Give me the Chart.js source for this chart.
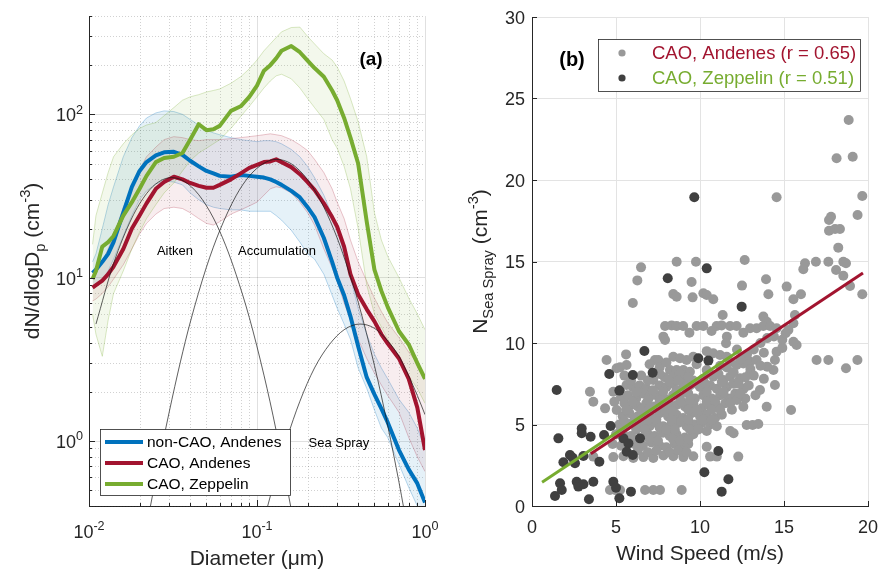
<!DOCTYPE html>
<html>
<head>
<meta charset="utf-8">
<script src="https://cdn.jsdelivr.net/npm/chart.js@4.4.0/dist/chart.umd.min.js"></script>
<style>
    body { margin: 0; background: #fff; }
    .wrap { position: relative; width: 880px; height: 569px; overflow: hidden; }
    #chartA { position: absolute; left: 0; top: 0; }
    #chartB { position: absolute; left: 450px; top: 0; }
</style>
</head>
<body>
<div class="wrap">
    <canvas id="chartA" width="440" height="569"></canvas>
    <canvas id="chartB" width="430" height="569"></canvas>
</div>
<script>
// ---------- panel (a): size distributions ----------
const diam = [0.0105, 0.011, 0.012, 0.013, 0.014, 0.016, 0.018, 0.02, 0.022, 0.025, 0.028, 0.032, 0.036, 0.04, 0.045,
    0.05, 0.055, 0.06, 0.07, 0.08, 0.09, 0.1, 0.11, 0.12, 0.13, 0.14, 0.16, 0.18, 0.2, 0.22, 0.25, 0.28, 0.3, 0.33,
    0.36, 0.4, 0.45, 0.5, 0.55, 0.6, 0.7, 0.8, 0.9, 1.0];

const nonCaoAndenes = [10.7, 11.2, 12.5, 14, 16.5, 25, 36, 45, 51, 56, 58.5, 59, 56.5, 52, 48, 45, 43.5, 42, 41.5, 42.5,
    42, 41.5, 41, 40, 38.5, 37, 34, 31, 27, 23.5, 17.5, 12.5, 10, 7.8, 5.8, 3.8, 2.45, 1.93, 1.58, 1.3, 0.88, 0.67, 0.55, 0.42];
const nonCaoAndenesHi = [12.5, 14, 20, 28, 36, 55, 72, 85, 95, 102, 105, 104, 100, 93, 86, 80, 77, 75, 72, 70,
    69, 68, 69, 69, 68, 66, 61, 55, 48, 41, 32, 24, 20, 14, 10, 6.5, 4.5, 3.4, 2.8, 2.4, 1.8, 1.5, 1.2, 0.9];
const nonCaoAndenesLo = [8.5, 8.8, 9.5, 11, 13, 18, 24, 30, 34, 37.5, 39, 38.5, 37, 33, 30, 28, 27, 26.5, 26, 26,
    25.5, 25.5, 25.5, 25.5, 24, 22.5, 19.5, 16.5, 14, 13, 10.5, 7.8, 6.5, 5.2, 4.2, 2.8, 2.1, 1.55, 1.2, 1.05, 0.72, 0.52, 0.4, 0.3];

const caoAndenes = [8.7, 9.0, 9.6, 10.5, 11.7, 15, 20, 24, 28.5, 35, 38.5, 41.5, 40, 38, 36.5, 35.5, 35.5, 37, 40, 43.5,
    47, 49, 51, 51.5, 53, 51, 47.5, 43, 38.5, 34.5, 28.5, 23.5, 20.5, 15.5, 10.5, 7.9, 6.4, 5.4, 4.5, 3.95, 3.2, 2.4, 1.6, 0.88];
const caoAndenesHi = [10.5, 11, 12.5, 15, 18, 27, 36, 46, 55, 63, 70, 73, 72, 70, 69, 70, 70, 70, 71, 72,
    73, 74, 75, 76, 75, 74, 70, 65, 60, 53, 44, 35, 29, 23, 17, 12.5, 9.5, 7.5, 6.2, 5.3, 4.3, 3.5, 3.0, 2.5];
const caoAndenesLo = [7.2, 7.4, 8, 8.8, 9.8, 12, 15, 18.5, 21.5, 24.5, 26.5, 27, 26.5, 25, 23, 21.5, 21, 22, 24.5, 26,
    27.5, 29, 32, 35, 36, 35.5, 33, 29, 25, 21, 15, 11.5, 9.5, 7, 5.5, 4.2, 3.2, 2.6, 2.2, 1.9, 1.5, 1.05, 0.8, 0.65];

const caoZeppelin = [9.8, 11, 15.5, 16.5, 18, 24, 29, 35, 42, 51, 54, 55, 58, 70, 87, 80, 81, 85, 105, 112,
    128, 150, 185, 200, 220, 245, 262, 240, 213, 192, 170, 140, 122, 95, 72, 50, 22, 11.2, 8.3, 6.6, 4.7, 3.9, 3.0, 2.4];
const caoZeppelinHi = [16, 24, 33, 44, 55, 66, 75, 82, 86, 89, 98, 110, 122, 128, 132, 137, 140, 143, 155, 170,
    190, 215, 245, 270, 295, 320, 340, 342, 300, 270, 235, 215, 195, 160, 125, 90, 55, 25, 17, 13.5, 10, 7.5, 6, 4.8];
const caoZeppelinLo = [6, 4.5, 3.3, 5.5, 8, 11, 15, 19, 23, 28, 33, 38, 45, 52, 58, 62, 66, 70, 82, 97,
    112, 128, 145, 160, 172, 176, 165, 145, 125, 110, 93, 70, 62, 48, 35, 20, 9, 6, 5, 4.2, 3.2, 2.5, 2.1, 1.7];

// fitted modes
const aitkenD = [0.011, 0.014, 0.018, 0.022, 0.026, 0.031, 0.037, 0.045, 0.055, 0.065, 0.075, 0.09, 0.11, 0.13, 0.15, 0.16];
const aitkenN = [5.2, 12.2, 23.2, 32.7, 38.6, 41, 38.8, 32.2, 23.2, 15.8, 10.5, 5.7, 2.53, 1.16, 0.54, 0.38];
const accumD = [0.023, 0.027, 0.03, 0.035, 0.04, 0.05, 0.06, 0.075, 0.09, 0.11, 0.13, 0.16, 0.2, 0.25, 0.3, 0.35, 0.4, 0.5, 0.6, 0.7, 0.75];
const accumN = [0.38, 0.89, 1.5, 3.05, 5.3, 11.6, 19.4, 31.7, 41.9, 50.2, 53, 49.8, 39.8, 27, 17.5, 11.1, 7.1, 2.9, 1.24, 0.56, 0.38];
const seaD = [0.115, 0.13, 0.15, 0.18, 0.22, 0.27, 0.33, 0.41, 0.5, 0.6, 0.7, 0.8, 0.9, 1.0];
const seaN = [0.39, 0.62, 1.02, 1.75, 2.8, 3.9, 4.8, 5.2, 4.9, 4.1, 3.3, 2.5, 1.9, 1.45];

const xDecades = [0.01, 0.1, 1];
const xDecadeExp = ['-2', '-1', '0'];
const yDecades = [1, 10, 100];
const yDecadeExp = ['0', '1', '2'];

// ---------- panel (b): sea spray vs wind ----------
const andenesPts = [
    [18.85, 23.68], [18.13, 21.33], [19.09, 21.43], [14.56, 18.94], [19.66, 19.02], [19.38, 17.85], [17.8, 17.75],
    [17.68, 17.55], [17.68, 16.89], [18.04, 16.99], [18.33, 16.99], [18.23, 15.85], [17.64, 14.99], [16.9, 14.99],
    [16.25, 14.89], [16.15, 14.52], [18.53, 14.99], [18.69, 14.89], [18.1, 14.48], [18.53, 14.13], [18.93, 13.5],
    [19.66, 12.99], [15.16, 13.46], [16.01, 12.99], [15.56, 12.68], [13.93, 13.91], [14.07, 12.99], [12.5, 13.52],
    [12.66, 15.09], [9.76, 14.99], [8.61, 14.99], [9.5, 13.74], [6.49, 14.64], [6.27, 13.84], [8.41, 13.0],
    [8.61, 12.84], [9.56, 12.8], [10.2, 13.05], [10.4, 12.94], [10.79, 12.68], [6.0, 12.45],
    [11.35, 11.72], [13.77, 11.62], [13.97, 11.31], [15.65, 11.72], [15.56, 11.21], [15.26, 10.8], [15.75, 9.88],
    [15.56, 10.08], [14.56, 9.47], [14.46, 8.96], [14.37, 8.34], [14.46, 7.42], [14.0, 8.55], [13.57, 7.12],
    [13.97, 6.09], [15.42, 5.89], [16.94, 8.96], [17.64, 8.96], [18.69, 8.45], [19.37, 8.96], [12.58, 6.09],
    [12.78, 4.97], [13.13, 4.97], [13.47, 5.03], [12.0, 4.46], [12.28, 3.03], [10.4, 3.64], [10.6, 3.03], [11.0, 3.03],
    [8.91, 0.98], [7.62, 0.98], [7.22, 0.98], [6.73, 0.98], [4.64, 0.98], [5.24, 0.98], [4.95, 0.98],
    [7.92, 11.04], [8.31, 11.08], [8.61, 11.04], [9.0, 11.04], [9.37, 10.63], [9.8, 11.04], [10.2, 11.04],
    [10.69, 10.74], [10.99, 11.04], [11.29, 11.08], [11.79, 11.04], [12.18, 11.04], [12.58, 10.63], [12.98, 10.9],
    [13.37, 10.9], [13.77, 11.04], [14.17, 11.04], [14.56, 10.9], [7.82, 10.39], [7.92, 10.18], [11.6, 10.39],
    [11.55, 9.98], [14.0, 10.3], [14.4, 10.4], [14.9, 10.2], [15.1, 10.6], [13.6, 10.0], [14.9, 9.7], [13.8, 9.4],
    [4.44, 8.96], [5.6, 9.3], [7.32, 8.96], [7.52, 8.96], [8.41, 9.16], [8.81, 9.06], [9.2, 8.96], [9.6, 9.16],
    [10.79, 9.37], [11.19, 9.26], [11.59, 9.16], [11.79, 8.85], [12.98, 8.85], [13.37, 8.96], [12.2, 9.6], [10.4, 9.5],
    [5.04, 8.45], [5.24, 8.51], [5.63, 8.65], [8.21, 8.34], [8.61, 8.34], [9.01, 8.34], [9.4, 8.24], [10.4, 8.34],
    [12.18, 8.65], [12.58, 8.75], [13.0, 8.4], [11.2, 8.6], [7.6, 8.5],
    [6.5, 8.0], [7.22, 7.73], [7.9, 7.9], [8.4, 7.9], [9.0, 7.8], [9.6, 7.7], [10.2, 7.8], [10.79, 7.93],
    [11.39, 7.73], [11.79, 7.93], [12.38, 7.83], [12.98, 8.14],
    [3.45, 7.01], [4.84, 7.01], [5.24, 7.12], [5.63, 7.42], [6.0, 7.3], [6.4, 7.4], [6.8, 7.2], [7.6, 7.4], [8.0, 7.3],
    [8.4, 7.5], [9.0, 7.3], [9.4, 7.4], [10.0, 7.3], [10.6, 7.4], [11.0, 7.2], [11.6, 7.3], [12.0, 7.5], [12.6, 7.2],
    [3.65, 6.4], [5.3, 6.7], [5.7, 6.8], [6.2, 6.6], [6.6, 6.9], [7.0, 6.7], [7.4, 6.8], [7.9, 6.6], [8.4, 6.8],
    [8.8, 6.7], [9.3, 6.9], [9.7, 6.6], [10.2, 6.8], [10.7, 6.6], [11.2, 6.8], [11.7, 6.6], [12.1, 6.9],
    [4.35, 5.99], [5.04, 5.89], [5.9, 6.2], [6.3, 6.1], [6.8, 6.3], [7.3, 6.1], [7.7, 6.2], [8.2, 6.0], [8.6, 6.2],
    [9.1, 6.1], [9.6, 6.3], [10.1, 6.0], [10.5, 6.2], [11.0, 6.1], [11.5, 6.3], [11.9, 5.9],
    [5.4, 5.5], [5.8, 5.7], [6.3, 5.5], [6.7, 5.6], [7.2, 5.4], [7.6, 5.7], [8.1, 5.5], [8.6, 5.6], [9.0, 5.4],
    [9.5, 5.7], [10.0, 5.5], [10.4, 5.6], [10.9, 5.4], [11.3, 5.6],
    [5.2, 5.0], [5.6, 4.9], [6.0, 5.1], [6.5, 5.0], [7.0, 4.9], [7.4, 5.1], [7.8, 4.9], [8.3, 5.0], [8.7, 5.1],
    [9.2, 4.9], [9.7, 5.0], [10.1, 5.1], [10.6, 5.0], [11.0, 4.9], [11.8, 4.6],
    [5.0, 4.4], [5.4, 4.5], [5.9, 4.3], [6.9, 4.4], [7.3, 4.3], [7.8, 4.5], [8.2, 4.3], [8.6, 4.4], [9.1, 4.2], [9.6, 4.4],
    [4.8, 3.8], [5.3, 3.7], [6.1, 3.8], [6.6, 3.7], [7.1, 3.9], [7.6, 3.7], [8.0, 3.6], [8.5, 3.8], [8.9, 3.7], [9.3, 3.8],
    [3.65, 3.03], [4.84, 3.0], [5.44, 3.05], [6.03, 2.95], [6.63, 3.0], [7.22, 2.95], [7.82, 3.1], [8.41, 3.05],
    [9.01, 3.0], [9.6, 3.05],
    [13.2, 9.6], [12.8, 9.3], [13.6, 8.6], [13.2, 8.0], [13.8, 7.8], [12.9, 7.4], [13.3, 6.8], [12.7, 6.6], [12.2, 6.5],
    [7.0, 8.7], [8.0, 8.8], [9.8, 8.7], [11.6, 8.5], [12.4, 9.0],
    [5.5, 8.0], [7.6, 8.1], [8.8, 8.1], [9.3, 7.9], [10.6, 8.1], [11.1, 8.1], [12.0, 8.2], [12.7, 7.9],
    [5.9, 7.7], [6.9, 7.7], [8.2, 7.6], [8.7, 7.7], [9.8, 7.5], [10.3, 7.5], [11.3, 7.6], [12.3, 7.5],
    [6.2, 7.0], [7.2, 7.1], [7.8, 7.0], [8.6, 7.1], [9.2, 7.0], [10.4, 7.0], [11.4, 7.0], [12.4, 6.9],
    [4.9, 6.4], [5.5, 6.3], [6.0, 6.4], [6.9, 6.5], [7.6, 6.5], [8.1, 6.4], [8.9, 6.4], [9.4, 6.5], [10.4, 6.4],
    [10.9, 6.4], [11.8, 6.3],
    [5.6, 5.9], [6.5, 5.9], [7.0, 6.0], [7.9, 5.9], [8.4, 5.8], [9.3, 5.9], [9.8, 5.9], [10.7, 5.9], [11.2, 5.9],
    [5.5, 5.2], [6.1, 5.3], [6.9, 5.3], [7.4, 5.3], [8.3, 5.3], [8.9, 5.2], [9.3, 5.3], [10.2, 5.3], [10.7, 5.3],
    [5.3, 4.7], [6.2, 4.7], [6.7, 4.7], [7.6, 4.8], [8.0, 4.7], [8.5, 4.7], [9.4, 4.7], [9.9, 4.7], [10.4, 4.6],
    [5.6, 4.1], [6.4, 4.1], [7.0, 4.1], [7.5, 4.0], [8.4, 4.1], [8.8, 4.0], [9.3, 4.1],
    [6.3, 3.4], [6.9, 3.3], [7.4, 3.4], [8.2, 3.3], [8.7, 3.4], [9.2, 3.3]
];
const zeppelinPts = [
    [9.66, 18.94], [10.4, 14.58], [8.08, 13.97], [12.48, 12.23], [1.47, 7.12], [1.57, 4.15], [2.96, 4.76], [2.96, 4.46],
    [3.49, 4.25], [4.29, 4.36], [4.68, 4.91], [4.6, 8.1], [5.2, 7.08], [6.0, 8.04], [6.69, 9.51], [7.18, 8.18],
    [9.9, 9.06], [10.5, 8.92], [5.44, 4.15], [5.74, 3.84], [5.64, 3.33], [6.0, 3.13], [6.43, 4.15], [11.09, 3.37],
    [10.26, 2.07], [11.69, 1.64], [11.29, 0.88], [2.26, 3.13], [1.87, 2.68], [2.56, 2.62], [3.06, 3.07], [2.42, 2.96],
    [1.67, 1.39], [1.77, 0.98], [2.66, 1.49], [2.76, 1.19], [3.06, 1.33], [3.65, 1.49], [1.37, 0.61], [3.39, 0.41],
    [4.84, 1.49], [5.0, 1.12], [5.2, 0.47], [5.89, 0.88], [4.01, 2.72]
];
const andenesFitX = [3.5, 19.7];
const andenesFitY = [3.2, 14.3];
const zeppelinFitX = [0.6, 12.45];
const zeppelinFitY = [1.45, 9.6];

const windTicks = [0, 5, 10, 15, 20];
const nTicks = [0, 5, 10, 15, 20, 25, 30];

// ---------- styling ----------
const FONT = '"Liberation Sans", Arial, Helvetica, sans-serif';
const INK = '#262626';
const BLUE = '#0072BD';
const RED = '#A2142F';
const GREEN = '#77AC30';

function series(xs, ys) {
    return xs.map((v, i) => ({ x: v, y: ys[i] }));
}
function pairs(pts) {
    return pts.map(p => ({ x: p[0], y: p[1] }));
}
function isDecade(v) {
    const l = Math.log10(v);
    return Math.abs(l - Math.round(l)) < 1e-6;
}
// 1..9 x 10^n tick positions for the log grid
function logGridTicks(min, max) {
    const out = [];
    for (let e = -3; e <= 3; e++) {
        for (let s = 1; s <= 9; s++) {
            const v = parseFloat((s * Math.pow(10, e)).toPrecision(4));
            if (v >= min - 1e-9 && v <= max + 1e-9) out.push({ value: v });
        }
    }
    return out;
}

// text with sub/superscript parts, baseline at y
function rich(ctx, parts, x, y, size, align) {
    const small = size * 0.7;
    let w = 0;
    parts.forEach(p => {
        ctx.font = (p.sub || p.sup ? small : size) + 'px ' + FONT;
        w += ctx.measureText(p.t).width;
    });
    let cx = align === 'center' ? x - w / 2 : align === 'right' ? x - w : x;
    ctx.textAlign = 'left';
    ctx.textBaseline = 'alphabetic';
    parts.forEach(p => {
        ctx.font = (p.sub || p.sup ? small : size) + 'px ' + FONT;
        const dy = p.sup ? -size * 0.42 : p.sub ? size * 0.28 : 0;
        ctx.fillText(p.t, cx, y + dy);
        cx += ctx.measureText(p.t).width;
    });
}

function seg(ctx, x1, y1, x2, y2) {
    ctx.beginPath();
    ctx.moveTo(x1, y1);
    ctx.lineTo(x2, y2);
    ctx.stroke();
}

// dotted minor grid of the log panel
const minorGrid = {
    id: 'minorGrid',
    beforeDatasetsDraw(chart) {
        const { ctx, chartArea: a, scales: { x, y } } = chart;
        ctx.save();
        ctx.strokeStyle = 'rgba(0,0,0,0.18)';
        ctx.lineWidth = 1;
        ctx.setLineDash([1, 2]);
        x.ticks.forEach(t => {
            if (isDecade(t.value)) return;
            const px = Math.round(x.getPixelForValue(t.value)) + 0.5;
            seg(ctx, px, a.top, px, a.bottom);
        });
        y.ticks.forEach(t => {
            if (isDecade(t.value)) return;
            const py = Math.round(y.getPixelForValue(t.value)) + 0.5;
            seg(ctx, a.left, py, a.right, py);
        });
        ctx.restore();
    }
};

const panelA = {
    id: 'panelA',
    afterDraw(chart) {
        const { ctx, chartArea: a, scales: { x, y } } = chart;
        ctx.save();
        ctx.strokeStyle = INK;
        ctx.lineWidth = 1;
        // inward ticks
        y.ticks.forEach(t => {
            const py = Math.round(y.getPixelForValue(t.value)) + 0.5;
            seg(ctx, a.left, py, a.left + (isDecade(t.value) ? 6 : 3), py);
        });
        x.ticks.forEach(t => {
            const px = Math.round(x.getPixelForValue(t.value)) + 0.5;
            seg(ctx, px, a.bottom, px, a.bottom - (isDecade(t.value) ? 6 : 3));
        });

        ctx.fillStyle = INK;
        xDecades.forEach((v, i) => rich(ctx, [{ t: '10' }, { t: xDecadeExp[i], sup: true }], x.getPixelForValue(v), 538, 18, 'center'));
        yDecades.forEach((v, i) => rich(ctx, [{ t: '10' }, { t: yDecadeExp[i], sup: true }], 83, y.getPixelForValue(v) + 7, 18, 'right'));

        rich(ctx, [{ t: 'Diameter (\u03bcm)' }], (a.left + a.right) / 2, 565, 21, 'center');
        ctx.save();
        ctx.translate(39, (a.top + a.bottom) / 2);
        ctx.rotate(-Math.PI / 2);
        rich(ctx, [{ t: 'dN/dlogD' }, { t: 'p', sub: true }, { t: ' (cm' }, { t: '-3', sup: true }, { t: ')' }], 0, 0, 21, 'center');
        ctx.restore();

        // mode labels
        ctx.fillStyle = '#000';
        ctx.font = '13px ' + FONT;
        ctx.textAlign = 'center';
        ctx.textBaseline = 'middle';
        ctx.fillText('Aitken', x.getPixelForValue(0.0325), 251);
        ctx.fillText('Accumulation', x.getPixelForValue(0.1315), 251);
        ctx.fillText('Sea Spray', x.getPixelForValue(0.307), 443);
        ctx.font = 'bold 19px ' + FONT;
        ctx.fillText('(a)', 371, 60);

        // legend
        ctx.fillStyle = '#fff';
        ctx.fillRect(100.5, 429.5, 190, 66);
        ctx.strokeStyle = INK;
        ctx.lineWidth = 0.8;
        ctx.strokeRect(100.5, 429.5, 190, 66);
        const rows = [['non-CAO, Andenes', BLUE], ['CAO, Andenes', RED], ['CAO, Zeppelin', GREEN]];
        rows.forEach((r, i) => {
            const ry = 442 + i * 21;
            ctx.strokeStyle = r[1];
            ctx.lineWidth = 4;
            seg(ctx, 105, ry, 143, ry);
            ctx.fillStyle = '#000';
            ctx.font = '15.5px ' + FONT;
            ctx.textAlign = 'left';
            ctx.textBaseline = 'middle';
            ctx.fillText(r[0], 147, ry + 1);
        });
        ctx.restore();
    }
};

const panelB = {
    id: 'panelB',
    afterDraw(chart) {
        const { ctx, chartArea: a, scales: { x, y } } = chart;
        ctx.save();
        ctx.strokeStyle = INK;
        ctx.lineWidth = 1;
        windTicks.forEach(v => {
            const px = Math.round(x.getPixelForValue(v)) + 0.5;
            seg(ctx, px, a.bottom, px, a.bottom - 5);
        });
        nTicks.forEach(v => {
            const py = Math.round(y.getPixelForValue(v)) + 0.5;
            seg(ctx, a.left, py, a.left + 5, py);
        });
        ctx.fillStyle = INK;
        windTicks.forEach(v => rich(ctx, [{ t: String(v) }], x.getPixelForValue(v), 533, 18, 'center'));
        nTicks.forEach(v => rich(ctx, [{ t: String(v) }], 75, y.getPixelForValue(v) + 6.5, 18, 'right'));

        rich(ctx, [{ t: 'Wind Speed (m/s)' }], (a.left + a.right) / 2, 560, 21, 'center');
        ctx.save();
        ctx.translate(37, (a.top + a.bottom) / 2);
        ctx.rotate(-Math.PI / 2);
        rich(ctx, [{ t: 'N' }, { t: 'Sea Spray', sub: true }, { t: ' (cm' }, { t: '-3', sup: true }, { t: ')' }], 0, 0, 21, 'center');
        ctx.restore();

        ctx.fillStyle = '#000';
        ctx.font = 'bold 20px ' + FONT;
        ctx.textAlign = 'center';
        ctx.textBaseline = 'middle';
        ctx.fillText('(b)', 122, 60);

        // legend
        ctx.fillStyle = '#fff';
        ctx.fillRect(148.5, 39.5, 262, 52);
        ctx.strokeStyle = INK;
        ctx.lineWidth = 0.8;
        ctx.strokeRect(148.5, 39.5, 262, 52);
        const rows = [['CAO, Andenes (r = 0.65)', '#999999', RED], ['CAO, Zeppelin (r = 0.51)', '#404040', GREEN]];
        rows.forEach((r, i) => {
            const ry = 53 + i * 25;
            ctx.fillStyle = r[1];
            ctx.beginPath();
            ctx.arc(172, ry, 3.6, 0, Math.PI * 2);
            ctx.fill();
            ctx.fillStyle = r[2];
            ctx.font = '18.5px ' + FONT;
            ctx.textAlign = 'left';
            ctx.textBaseline = 'middle';
            ctx.fillText(r[0], 202, ry + 1);
        });
        ctx.restore();
    }
};

function bandSet(data, edge, fillColor, fill, order) {
    return { data: data, borderColor: edge, borderWidth: 0.8, backgroundColor: fillColor, fill: fill, order: order, pointRadius: 0 };
}
function mainSet(data, color, order) {
    return { data: data, borderColor: color, borderWidth: 4, borderJoinStyle: 'round', fill: false, order: order, pointRadius: 0 };
}
function modeSet(data) {
    return { data: data, borderColor: '#1a1a1a', borderWidth: 0.7, fill: false, order: -1, pointRadius: 0, cubicInterpolationMode: 'monotone' };
}

new Chart(document.getElementById('chartA'), {
    type: 'line',
    data: {
        datasets: [
            bandSet(series(diam, nonCaoAndenesHi), 'rgba(0,114,189,0.35)', 'rgba(0,114,189,0.10)', '+1', 10),
            bandSet(series(diam, nonCaoAndenesLo), 'rgba(0,114,189,0.35)', 'rgba(0,0,0,0)', false, 10),
            bandSet(series(diam, caoAndenesHi), 'rgba(162,20,47,0.3)', 'rgba(162,20,47,0.08)', '+1', 9),
            bandSet(series(diam, caoAndenesLo), 'rgba(162,20,47,0.3)', 'rgba(0,0,0,0)', false, 9),
            bandSet(series(diam, caoZeppelinHi), 'rgba(119,172,48,0.35)', 'rgba(119,172,48,0.09)', '+1', 8),
            bandSet(series(diam, caoZeppelinLo), 'rgba(119,172,48,0.35)', 'rgba(0,0,0,0)', false, 8),
            mainSet(series(diam, nonCaoAndenes), BLUE, 3),
            mainSet(series(diam, caoAndenes), RED, 2),
            mainSet(series(diam, caoZeppelin), GREEN, 1),
            modeSet(series(aitkenD, aitkenN)),
            modeSet(series(accumD, accumN)),
            modeSet(series(seaD, seaN))
        ]
    },
    options: {
        responsive: false,
        animation: false,
        devicePixelRatio: 1,
        layout: { padding: { left: 0, top: 16, right: 15, bottom: 0 } },
        plugins: { legend: { display: false }, tooltip: { enabled: false } },
        scales: {
            x: {
                type: 'logarithmic', min: 0.01, max: 1,
                afterBuildTicks: s => { s.ticks = logGridTicks(0.01, 1); },
                afterFit: s => { s.height = 63; },
                ticks: { display: false },
                grid: { drawTicks: false, color: c => (c.tick && isDecade(c.tick.value)) ? 'rgba(0,0,0,0.12)' : 'rgba(0,0,0,0)' },
                border: { color: INK, width: 1 }
            },
            y: {
                type: 'logarithmic', min: 0.4, max: 400,
                afterBuildTicks: s => { s.ticks = logGridTicks(0.4, 400); },
                afterFit: s => { s.width = 89; },
                ticks: { display: false },
                grid: { drawTicks: false, color: c => (c.tick && isDecade(c.tick.value)) ? 'rgba(0,0,0,0.12)' : 'rgba(0,0,0,0)' },
                border: { color: INK, width: 1 }
            }
        }
    },
    plugins: [minorGrid, panelA]
});

new Chart(document.getElementById('chartB'), {
    type: 'scatter',
    data: {
        datasets: [
            { data: series(zeppelinFitX, zeppelinFitY), showLine: true, borderColor: GREEN, borderWidth: 3, pointRadius: 0, order: 0 },
            { data: series(andenesFitX, andenesFitY), showLine: true, borderColor: RED, borderWidth: 3, pointRadius: 0, order: 1 },
            { data: pairs(zeppelinPts), backgroundColor: '#404040', borderWidth: 0, pointRadius: 5, order: 2 },
            { data: pairs(andenesPts), backgroundColor: '#999999', borderWidth: 0, pointRadius: 5, order: 3 }
        ]
    },
    options: {
        responsive: false,
        animation: false,
        devicePixelRatio: 1,
        layout: { padding: { left: 0, top: 17, right: 12, bottom: 0 } },
        plugins: { legend: { display: false }, tooltip: { enabled: false } },
        scales: {
            x: {
                type: 'linear', min: 0, max: 20,
                ticks: { display: false, stepSize: 5 },
                afterFit: s => { s.height = 63; },
                grid: { drawTicks: false, color: '#e3e3e3' },
                border: { color: INK, width: 1 }
            },
            y: {
                type: 'linear', min: 0, max: 30,
                ticks: { display: false, stepSize: 5 },
                afterFit: s => { s.width = 82; },
                grid: { drawTicks: false, color: '#e3e3e3' },
                border: { color: INK, width: 1 }
            }
        }
    },
    plugins: [panelB]
});
</script>
</body>
</html>
